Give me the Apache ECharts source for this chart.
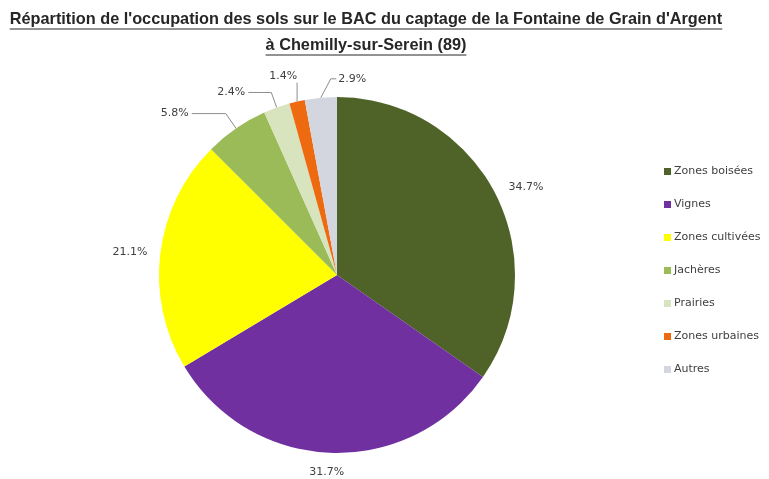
<!DOCTYPE html>
<html>
<head>
<meta charset="utf-8">
<script src="https://cdn.jsdelivr.net/npm/echarts@6/dist/echarts.min.js"></script>
<style>
  html, body { margin: 0; padding: 0; background: #fff; }
  #chart { width: 769px; height: 479px; }
</style>
</head>
<body>
<div id="chart"></div>
<script>
const categories = ["Zones boisées", "Vignes", "Zones cultivées", "Jachères", "Prairies", "Zones urbaines", "Autres"];
const values = [34.7, 31.7, 21.1, 5.8, 2.4, 1.4, 2.9];
const colors = ["#4F6228", "#7030A0", "#FFFF00", "#9BBB59", "#D7E4BD", "#EE6A10", "#D3D6DE"];
const titleLines = [
  "Répartition de l'occupation des sols sur le BAC du captage de la Fontaine de Grain d'Argent",
  "à Chemilly-sur-Serein (89)"
];

// label line tuning per slice: [length, length2, show line]
const lineCfg = [[12, 0, false], [19, 0, false], [10, 0, false], [18, 34, true], [16, 23, true], [26, 0, true], [17, 4, true]];
// small nudges after layout (dx, dy, align)
const nudges = [[0, 0], [17, 0], [0, 0], [0, 0], [0, 0], [9, 0], [26, -2, "left"]];

const labelFont = "'DejaVu Sans', sans-serif";
const titleFont = "bold 16.3px 'Liberation Sans', Arial, sans-serif";
const measure = document.createElement("canvas").getContext("2d");
measure.font = titleFont;

const titleX = 366;
const graphic = [];
titleLines.forEach((line, i) => {
  const y = 20 + i * 26;
  const w = measure.measureText(line).width;
  graphic.push({
    type: "text",
    x: titleX,
    y: y,
    style: { text: line, font: titleFont, fill: "#262626", align: "center", verticalAlign: "middle" }
  });
  graphic.push({
    type: "line",
    shape: { x1: titleX - w / 2, y1: y + 9, x2: titleX + w / 2, y2: y + 9 },
    style: { stroke: "#262626", lineWidth: 1 }
  });
});

const data = categories.map((name, i) => ({
  name: name,
  value: values[i],
  itemStyle: { color: colors[i] },
  labelLine: {
    show: lineCfg[i][2],
    length: lineCfg[i][0],
    length2: lineCfg[i][1]
  }
}));

const chart = echarts.init(document.getElementById("chart"));
chart.setOption({
  backgroundColor: "#fff",
  animation: false,
  graphic: graphic,
  legend: {
    orient: "vertical",
    left: 659,
    top: 161,
    itemWidth: 7,
    itemHeight: 7,
    itemGap: 22,
    icon: "rect",
    data: categories,
    textStyle: { color: "#404040", fontSize: 11, fontFamily: labelFont, padding: [0, 0, 0, -2] }
  },
  series: [
    {
      type: "pie",
      center: [337, 275],
      radius: 178,
      startAngle: 90,
      clockwise: true,
      avoidLabelOverlap: false,
      data: data,
      label: {
        show: true,
        position: "outside",
        formatter: "{c}%",
        color: "#404040",
        fontSize: 11,
        fontFamily: labelFont,
        distanceToLabelLine: 3
      },
      labelLine: {
        lineStyle: { color: "#8c8c8c", width: 1 }
      },
      labelLayout: function (params) {
        const i = params.dataIndex;
        const n = nudges[i];
        const out = { dx: n[0], dy: n[1] };
        if (n[2]) out.align = n[2];
        const pts = params.labelLinePoints;
        const r = params.labelRect;
        if (pts && i === 5) {
          // straight vertical leader under the label
          out.labelLinePoints = [pts[0], [pts[0][0], r.y + r.height + 1], [pts[0][0], r.y + r.height + 1]];
        } else if (pts && i === 6) {
          // leader going up-right, then a short horizontal tick to the label
          const left = r.x + r.width + n[0];
          const ty = r.y + r.height / 2 + n[1];
          out.labelLinePoints = [pts[0], [pts[0][0] + 10, ty], [left - 2, ty]];
        }
        return out;
      }
    }
  ]
});
</script>
</body>
</html>
